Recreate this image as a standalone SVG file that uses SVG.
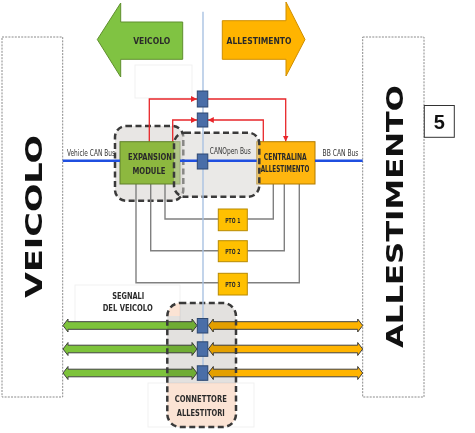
<svg xmlns="http://www.w3.org/2000/svg" width="475" height="433" viewBox="0 0 475 433">
<style>
.side{fill:#fff;stroke:#8a8a8a;stroke-width:1;stroke-dasharray:2 1.2}
.big{font-family:"DejaVu Sans","Liberation Sans",sans-serif;font-weight:bold;font-size:23px;fill:#111}
.lbl{font-family:"Liberation Sans Narrow","DejaVu Sans Condensed","DejaVu Sans",sans-serif;font-weight:bold;fill:#2a2a2a}
.bus{font-family:"Liberation Sans Narrow","DejaVu Sans Condensed","DejaVu Sans",sans-serif;font-size:8px;fill:#333}
.dash{stroke:#3a3a3a;stroke-width:2.5;stroke-dasharray:6 3.5}
.gw{fill:none;stroke:#808080;stroke-width:1.4}
.rw{fill:none;stroke:#e8262a;stroke-width:1.3}
.sq{fill:#4a6ea8;stroke:#2c4770;stroke-width:1}
.pto{fill:#ffc000;stroke:#b88a00;stroke-width:1}
.faint{fill:none;stroke:#f1f1f1;stroke-width:1}
.bus-line{stroke:#1f4fe0;stroke-width:2.6}
</style>
<defs>
<marker id="ra" markerUnits="userSpaceOnUse" markerWidth="6" markerHeight="6" refX="6" refY="3" orient="auto">
<path d="M0,0 L6,3 L0,6 z" fill="#e8262a"/>
</marker>
<clipPath id="cc"><rect x="167.3" y="303" width="68.7" height="124" rx="13"/></clipPath>
</defs>
<rect width="475" height="433" fill="#fff"/>

<g id="faint-boxes">
<rect class="faint" x="135" y="65" width="57" height="33"/>
<rect class="faint" x="75" y="285" width="105" height="38"/>
<rect class="faint" x="148" y="383" width="106" height="44"/>
</g>

<g id="veicolo-side">
<rect class="side" x="2" y="37" width="60.7" height="360"/>
<text class="big" transform="translate(41.7,216.5) rotate(-90)" text-anchor="middle" textLength="163" lengthAdjust="spacingAndGlyphs">VEICOLO</text>
</g>
<g id="allestimento-side">
<rect class="side" x="362.7" y="37" width="61.3" height="360"/>
<text class="big" transform="translate(403.3,216.5) rotate(-90)" text-anchor="middle" textLength="263" lengthAdjust="spacingAndGlyphs">ALLESTIMENTO</text>
</g>
<g id="page-number">
<rect x="424.3" y="105.5" width="30" height="31.8" fill="#fff" stroke="#333" stroke-width="1"/>
<text x="439.3" y="129" text-anchor="middle" font-family="Liberation Sans,Arial,sans-serif" font-weight="bold" font-size="20" fill="#111">5</text>
</g>

<g id="arrow-veicolo">
<polygon points="97.3,39.5 120.7,3 120.7,22 182.7,22 182.7,59.3 120.7,59.3 120.7,77" fill="#80c342" stroke="#5f8f2e" stroke-width="1"/>
<text class="lbl" x="151.7" y="43.5" font-size="9" text-anchor="middle" textLength="37" lengthAdjust="spacingAndGlyphs">VEICOLO</text>
</g>
<g id="arrow-allestimento">
<polygon points="222.3,20.7 286,20.7 286,2 305,39.5 286,76 286,59.3 222.3,59.3" fill="#ffb400" stroke="#cf8e00" stroke-width="1"/>
<text class="lbl" x="259" y="43.5" font-size="9" text-anchor="middle" textLength="65" lengthAdjust="spacingAndGlyphs">ALLESTIMENTO</text>
</g>

<g id="connectors">
<rect x="115" y="126" width="68.3" height="74.7" rx="11" fill="#e8e6e4" class="dash"/>
<path class="gw" d="M165,184 V219 H218.3 M150.7,184 V250.7 H218.3 M136,184 V282.7 H218.3"/>
<path class="gw" d="M247.3,219 H273.3 V184 M247.3,250.7 H284.3 V184 M247.3,282.7 H299.3 V184"/>
<path class="rw" d="M149.3,141.7 V99 H197" marker-end="url(#ra)"/>
<path class="rw" d="M207.8,99 H285.7 V141.5" marker-end="url(#ra)"/>
<path class="rw" d="M172.7,141.7 V120 H197" marker-end="url(#ra)"/>
<path class="rw" d="M263.3,141.7 V120 H207.8" marker-end="url(#ra)"/>
</g>

<g id="expansion-module">
<rect x="120" y="141.7" width="60" height="42.3" fill="#8db83f" stroke="#5f7f2a" stroke-width="1"/>
<text class="lbl" x="150" y="160" font-size="9" text-anchor="middle" textLength="44" lengthAdjust="spacingAndGlyphs">EXPANSION</text>
<text class="lbl" x="149" y="174" font-size="9" text-anchor="middle" textLength="33" lengthAdjust="spacingAndGlyphs">MODULE</text>
</g>
<g id="centralina">
<rect x="256.7" y="141.7" width="58.3" height="42.3" fill="#ffb60f" stroke="#b07a00" stroke-width="1"/>
<text class="lbl" x="285.3" y="160" font-size="8.5" text-anchor="middle" textLength="43" lengthAdjust="spacingAndGlyphs">CENTRALINA</text>
<text class="lbl" x="285" y="171.7" font-size="8.5" text-anchor="middle" textLength="48.6" lengthAdjust="spacingAndGlyphs">ALLESTIMENTO</text>
</g>

<g id="canopen">
<rect x="174" y="132.7" width="85.3" height="64" rx="11" fill="#d6d3d0" fill-opacity="0.5" class="dash"/>
<text class="bus" x="230.3" y="153.5" text-anchor="middle" textLength="41" lengthAdjust="spacingAndGlyphs">CANOpen Bus</text>
</g>

<g id="can-bus">
<line class="bus-line" x1="62.7" y1="160.7" x2="120" y2="160.7"/>
<line class="bus-line" x1="180" y1="160.7" x2="256.7" y2="160.7"/>
<line class="bus-line" x1="315" y1="160.7" x2="362.7" y2="160.7"/>
<text class="bus" x="91" y="156" text-anchor="middle" textLength="48" lengthAdjust="spacingAndGlyphs">Vehicle CAN Bus</text>
<text class="bus" x="340.5" y="155.5" text-anchor="middle" textLength="36" lengthAdjust="spacingAndGlyphs">BB CAN Bus</text>
</g>

<g id="pto1">
<rect class="pto" x="218.3" y="209" width="29" height="21.7"/>
<text class="lbl" x="232.8" y="222.8" font-size="7" text-anchor="middle" textLength="15" lengthAdjust="spacingAndGlyphs">PTO 1</text>
</g>
<g id="pto2">
<rect class="pto" x="218.3" y="240.7" width="29" height="21"/>
<text class="lbl" x="232.8" y="254" font-size="7" text-anchor="middle" textLength="15" lengthAdjust="spacingAndGlyphs">PTO 2</text>
</g>
<g id="pto3">
<rect class="pto" x="218.3" y="273.3" width="29" height="21.7"/>
<text class="lbl" x="232.8" y="286.8" font-size="7" text-anchor="middle" textLength="15" lengthAdjust="spacingAndGlyphs">PTO 3</text>
</g>

<g id="signal-arrows">
<path d="M63,325.5 L68,319 L68,321.7 L192,321.7 L192,319 L197,325.5 L192,332 L192,329.3 L68,329.3 L68,332 Z" fill="#7dc33b" stroke="#404040" stroke-width="1"/>
<path d="M63,349 L68,342.5 L68,345.2 L192,345.2 L192,342.5 L197,349 L192,355.5 L192,352.8 L68,352.8 L68,355.5 Z" fill="#7dc33b" stroke="#404040" stroke-width="1"/>
<path d="M63,373 L68,366.5 L68,369.2 L192,369.2 L192,366.5 L197,373 L192,379.5 L192,376.8 L68,376.8 L68,379.5 Z" fill="#7dc33b" stroke="#404040" stroke-width="1"/>
<path d="M208.3,325.5 L213.3,319 L213.3,321.7 L357.7,321.7 L357.7,319 L362.7,325.5 L357.7,332 L357.7,329.3 L213.3,329.3 L213.3,332 Z" fill="#ffb400" stroke="#404040" stroke-width="1"/>
<path d="M208.3,349 L213.3,342.5 L213.3,345.2 L357.7,345.2 L357.7,342.5 L362.7,349 L357.7,355.5 L357.7,352.8 L213.3,352.8 L213.3,355.5 Z" fill="#ffb400" stroke="#404040" stroke-width="1"/>
<path d="M208.3,373 L213.3,366.5 L213.3,369.2 L357.7,369.2 L357.7,366.5 L362.7,373 L357.7,379.5 L357.7,376.8 L213.3,376.8 L213.3,379.5 Z" fill="#ffb400" stroke="#404040" stroke-width="1"/>
<text class="lbl" x="128.3" y="299" font-size="9" text-anchor="middle" textLength="32" lengthAdjust="spacingAndGlyphs">SEGNALI</text>
<text class="lbl" x="127.7" y="310.7" font-size="9" text-anchor="middle" textLength="50" lengthAdjust="spacingAndGlyphs">DEL VEICOLO</text>
</g>

<g id="connettore">
<g clip-path="url(#cc)" style="mix-blend-mode:multiply">
<rect x="167" y="303" width="70" height="124" fill="#fbe3d4"/>
<rect x="167" y="316" width="70" height="67" fill="#e3e1df"/>
<rect x="180" y="303" width="57" height="14" fill="#e3e1df"/>
</g>
<rect x="167.3" y="303" width="68.7" height="124" rx="13" fill="none" class="dash"/>
<text class="lbl" x="200.8" y="401.7" font-size="9" text-anchor="middle" textLength="52" lengthAdjust="spacingAndGlyphs">CONNETTORE</text>
<text class="lbl" x="200.8" y="416" font-size="9" text-anchor="middle" textLength="48" lengthAdjust="spacingAndGlyphs">ALLESTITORI</text>
</g>

<g id="axis">
<line x1="203" y1="11.7" x2="203" y2="381" stroke="#a9c2e2" stroke-width="1.4"/>
</g>

<g id="nodes-squares">
<rect class="sq" x="197.3" y="91" width="10.5" height="16"/>
<rect class="sq" x="197.3" y="113" width="10.5" height="14"/>
<rect class="sq" x="197.3" y="154" width="10.5" height="15"/>
<rect class="sq" x="197.3" y="318.5" width="10.5" height="14.5"/>
<rect class="sq" x="197.3" y="341.8" width="10.5" height="14.5"/>
<rect class="sq" x="197.3" y="365.8" width="10.5" height="14.5"/>
</g>
</svg>
